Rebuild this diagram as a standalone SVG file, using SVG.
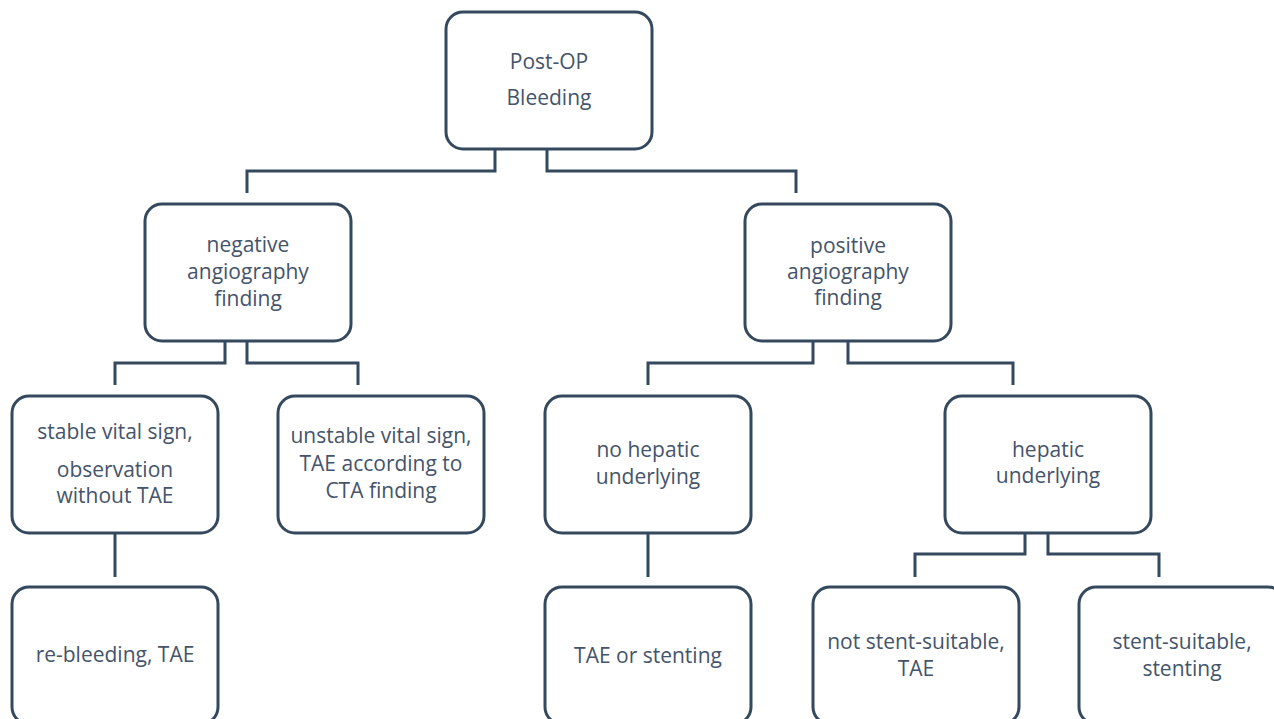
<svg xmlns="http://www.w3.org/2000/svg" width="1274" height="719" viewBox="0 0 1274 719">
<style>
.box{fill:#ffffff;stroke:#34495e;stroke-width:3}
.lbl{font-family:"Open Sans","Noto Sans",sans-serif;font-size:21px;fill:#44546a;text-anchor:middle}
.conn{fill:none;stroke:#34495e;stroke-width:3;stroke-linejoin:miter}
</style>
<rect width="1274" height="719" fill="#ffffff"/>
<g id="connectors">
<path class="conn" d="M495,149 V171 H247 V193"/>
<path class="conn" d="M547,149 V171 H796 V193"/>
<path class="conn" d="M225,342 V363 H115 V385"/>
<path class="conn" d="M247,342 V363 H358 V385"/>
<path class="conn" d="M813,342 V363 H648 V385"/>
<path class="conn" d="M848,342 V363 H1013 V385"/>
<path class="conn" d="M115,533 V577"/>
<path class="conn" d="M648,533 V577"/>
<path class="conn" d="M1025,533 V554 H915 V577"/>
<path class="conn" d="M1048,533 V554 H1159 V577"/>
</g>
<g id="node-postop">
<rect class="box" x="446" y="12" width="206" height="137" rx="17"/>
<text class="lbl" x="549" y="69">Post-OP</text>
<text class="lbl" x="549" y="105">Bleeding</text>
</g>
<g id="node-negative">
<rect class="box" x="145" y="204" width="206" height="137" rx="17"/>
<text class="lbl" x="248" y="252">negative</text>
<text class="lbl" x="248" y="279">angiography</text>
<text class="lbl" x="248" y="306">finding</text>
</g>
<g id="node-positive">
<rect class="box" x="745" y="204" width="206" height="137" rx="17"/>
<text class="lbl" x="848" y="253">positive</text>
<text class="lbl" x="848" y="279">angiography</text>
<text class="lbl" x="848" y="305">finding</text>
</g>
<g id="node-stable">
<rect class="box" x="12" y="396" width="206" height="137" rx="17"/>
<text class="lbl" x="115" y="439">stable vital sign,</text>
<text class="lbl" x="115" y="477">observation</text>
<text class="lbl" x="115" y="503">without TAE</text>
</g>
<g id="node-unstable">
<rect class="box" x="278" y="396" width="206" height="137" rx="17"/>
<text class="lbl" x="381" y="443">unstable vital sign,</text>
<text class="lbl" x="381" y="471">TAE according to</text>
<text class="lbl" x="381" y="498">CTA finding</text>
</g>
<g id="node-nohepatic">
<rect class="box" x="545" y="396" width="206" height="137" rx="17"/>
<text class="lbl" x="648" y="457">no hepatic</text>
<text class="lbl" x="648" y="484">underlying</text>
</g>
<g id="node-hepatic">
<rect class="box" x="945" y="396" width="206" height="137" rx="17"/>
<text class="lbl" x="1048" y="457">hepatic</text>
<text class="lbl" x="1048" y="483">underlying</text>
</g>
<g id="node-rebleeding">
<rect class="box" x="12" y="587" width="206" height="137" rx="17"/>
<text class="lbl" x="115" y="662">re-bleeding, TAE</text>
</g>
<g id="node-tae-stenting">
<rect class="box" x="545" y="587" width="206" height="137" rx="17"/>
<text class="lbl" x="648" y="663">TAE or stenting</text>
</g>
<g id="node-not-stent">
<rect class="box" x="813" y="587" width="206" height="137" rx="17"/>
<text class="lbl" x="916" y="649">not stent-suitable,</text>
<text class="lbl" x="916" y="676">TAE</text>
</g>
<g id="node-stent">
<rect class="box" x="1079" y="587" width="206" height="137" rx="17"/>
<text class="lbl" x="1182" y="649">stent-suitable,</text>
<text class="lbl" x="1182" y="676">stenting</text>
</g>
</svg>
